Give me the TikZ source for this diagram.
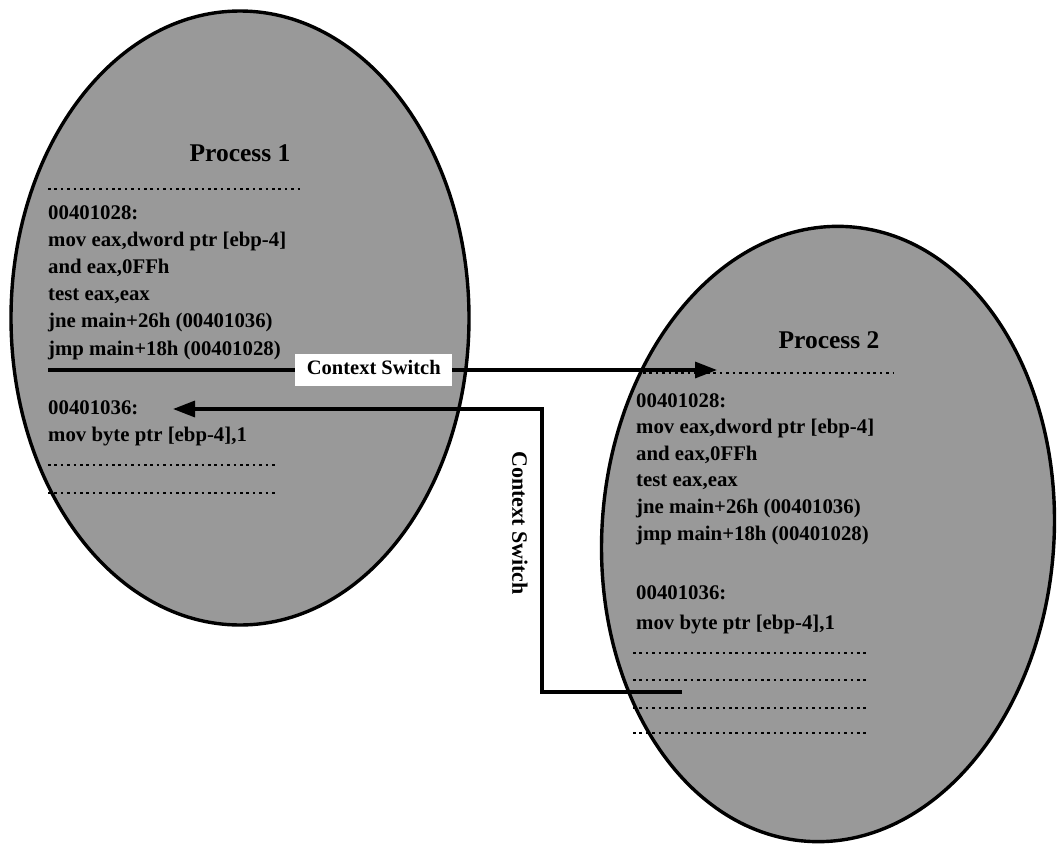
\documentclass[tikz,border=0pt]{standalone}
\usepackage{fontspec}
\setmainfont{Liberation Serif}
\usetikzlibrary{shapes.geometric,arrows.meta}
\definecolor{procfill}{gray}{0.6}
\tikzset{
  proc/.style={ellipse, draw=black, line width=3.4pt, fill=procfill, inner sep=0pt},
  code/.style={anchor=base west, inner sep=0pt, font=\fontsize{20.8}{24}\selectfont\bfseries},
  ptitle/.style={inner sep=0pt, font=\fontsize{25.5}{30}\selectfont\bfseries},
  dots/.style={line width=2.8pt, dash pattern=on 2.6pt off 3.8pt},
  conn/.style={line width=3.3pt, -{Triangle[length=22pt,width=16pt]}},
  lbl/.style={fill=white, font=\fontsize{20.5}{24}\selectfont\bfseries, inner xsep=11.5pt, inner ysep=6.5pt, text height=14pt, text depth=4.5pt},
  vlbl/.style={inner sep=0pt, font=\fontsize{22}{26}\selectfont\bfseries}
}
\begin{document}
\begin{tikzpicture}[x=1pt,y=-1pt]
\path[use as bounding box] (0,0) rectangle (1058,846);

% process ellipses
\node[proc, minimum width=458pt, minimum height=614pt] (p1) at (240,318) {};
\node[proc, minimum width=452pt, minimum height=616pt, rotate=-4] (p2) at (828,534) {};

% dotted separators, process 1
\draw[dots] (48,189) -- (300,189);
\draw[dots] (48,465) -- (275,465);
\draw[dots] (48,493) -- (275,493);
% dotted separators, process 2
\draw[dots] (643,373) -- (893,373);
\draw[dots] (633,653) -- (867,653);
\draw[dots] (633,680) -- (867,680);
\draw[dots] (633,708) -- (867,708);
\draw[dots] (633,733) -- (867,733);

% titles
\node[ptitle] (t1) at (240,153) {Process 1};
\node[ptitle] (t2) at (829,340) {Process 2};

% code, process 1
\node[code] (a1) at (48,219) {00401028:};
\node[code] (a2) at (48,246.2) {mov eax,dword ptr [ebp-4]};
\node[code] (a3) at (48,273.4) {and eax,0FFh};
\node[code] (a4) at (48,300.6) {test eax,eax};
\node[code] (a5) at (48,327.8) {jne main+26h (00401036)};
\node[code] (a6) at (48,355) {jmp main+18h (00401028)};
\node[code] (a7) at (48,414) {00401036:};
\node[code] (a8) at (48,441) {mov byte ptr [ebp-4],1};

% code, process 2
\node[code] (b1) at (636,407) {00401028:};
\node[code] (b2) at (636,433.6) {mov eax,dword ptr [ebp-4]};
\node[code] (b3) at (636,460.2) {and eax,0FFh};
\node[code] (b4) at (636,486.8) {test eax,eax};
\node[code] (b5) at (636,513.4) {jne main+26h (00401036)};
\node[code] (b6) at (636,540) {jmp main+18h (00401028)};
\node[code] (b7) at (636,599) {00401036:};
\node[code] (b8) at (636,629) {mov byte ptr [ebp-4],1};

% context switch 1 -> 2
\coordinate (s1) at (48,370);
\coordinate (e1) at (717,370);
\draw[conn] (s1) -- node[lbl, pos=0.487] (cs1) {Context Switch} (e1);

% context switch 2 -> 1
\coordinate (s2) at (682,692);
\coordinate (m2) at (542,409);
\coordinate (e2) at (173,409);
\draw[conn] (s2) -| (m2) -- (e2);
\node[vlbl, rotate=-90] (cs2) at (520,523) {Context Switch};
\end{tikzpicture}
\end{document}
